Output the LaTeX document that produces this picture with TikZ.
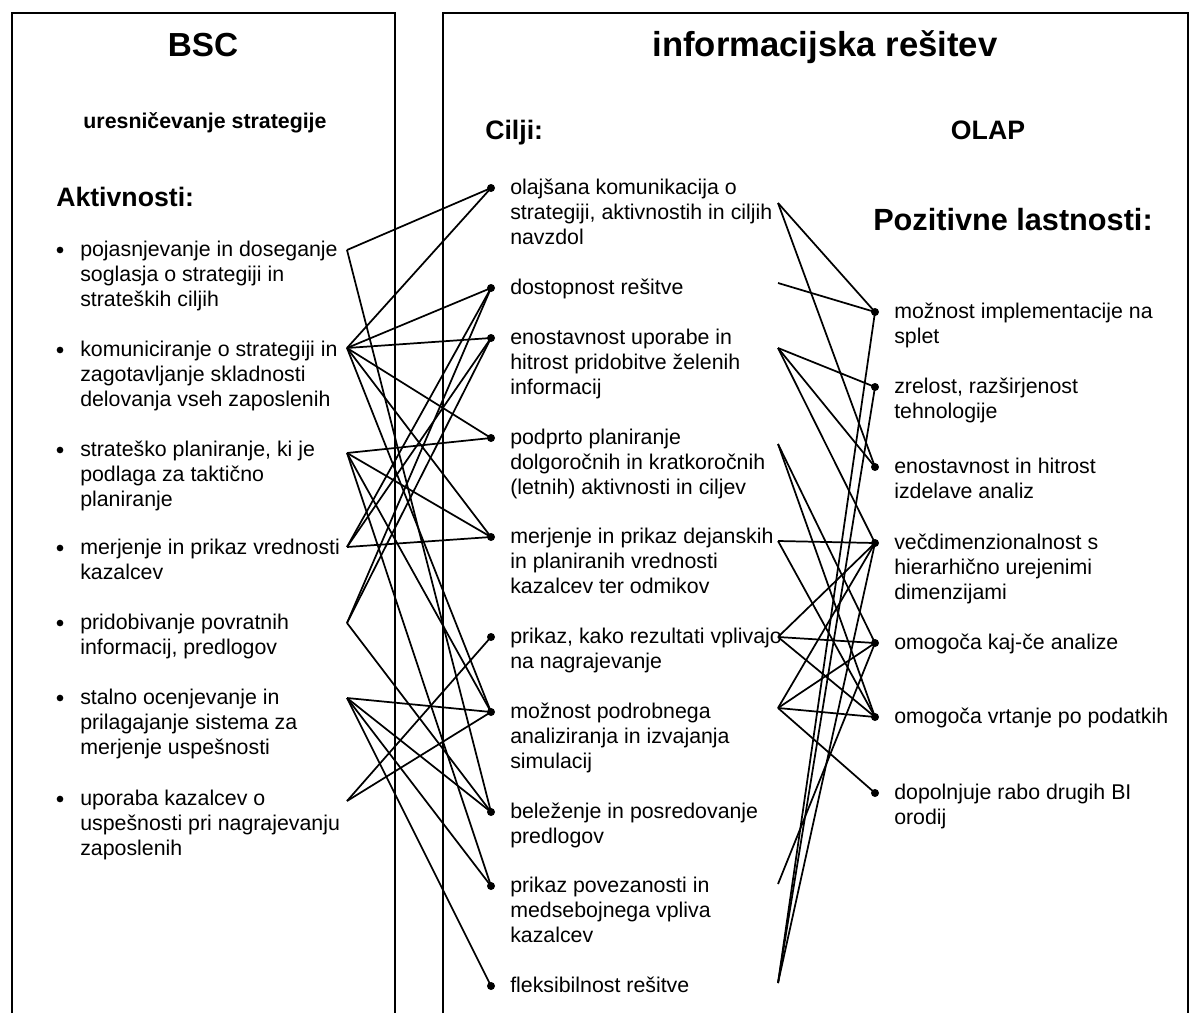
\documentclass[tikz,border=0pt]{standalone}
\usepackage{fontspec}
\setmainfont{Liberation Sans}
% left-aligned block whose baseline is that of its first line
\newcommand\mlines[1]{\begin{tabular}[t]{@{}l@{}}#1\end{tabular}}
\begin{document}
\begin{tikzpicture}[x=0.75pt,y=-0.75pt,
  frame/.style={line width=1.5pt},
  link/.style={line width=1.3pt},
  dot/.style={circle,fill=black,inner sep=0pt,minimum size=6pt},
  bul/.style={circle,fill=black,inner sep=0pt,minimum size=5pt},
  item/.style={anchor=base west,inner sep=0pt,font=\fontsize{16}{18.75}\selectfont},
  bighead/.style={anchor=base,inner sep=0pt,font=\fontsize{25}{30}\selectfont\bfseries},
  subhead/.style={anchor=base,inner sep=0pt,font=\fontsize{16}{19}\selectfont\bfseries},
  listhead/.style={anchor=base west,inner sep=0pt,font=\fontsize{20}{24}\selectfont\bfseries}]
\useasboundingbox (0,0) rectangle (1201,1013);

% two open-bottomed frames
\draw[frame] (12,1013) |- (395,13) -- (395,1013);
\draw[frame] (443,1013) |- (1188,13) -- (1188,1013);

% headings
\node[bighead] (bsc) at (203,57) {BSC};
\node[subhead] (ures) at (205,128) {uresničevanje strategije};
\node[listhead] (akt) at (56,206) {Aktivnosti:};
\node[bighead,font=\fontsize{26}{30}\selectfont\bfseries] (info) at (825,57) {informacijska rešitev};
\node[listhead] (cilji) at (485,140) {Cilji:};
\node[listhead,anchor=base] (olap) at (988,140) {OLAP};
\node[listhead,font=\fontsize{23}{27}\selectfont\bfseries] (poz) at (873,230) {Pozitivne lastnosti:};

% activities (left column)
\foreach \n/\y in {1/250,2/350,3/450,4/548,5/623,6/698,7/799}{
  \node[bul] (b\n) at (60,\y) {};
}
\node[item] (t1) at (80,256) {\mlines{pojasnjevanje in doseganje\\soglasja o strategiji in\\strateških ciljih}};
\node[item] (t2) at (80,356) {\mlines{komuniciranje o strategiji in\\zagotavljanje skladnosti\\delovanja vseh zaposlenih}};
\node[item] (t3) at (80,456) {\mlines{strateško planiranje, ki je\\podlaga za taktično\\planiranje}};
\node[item] (t4) at (80,554) {\mlines{merjenje in prikaz vrednosti\\kazalcev}};
\node[item] (t5) at (80,629) {\mlines{pridobivanje povratnih\\informacij, predlogov}};
\node[item] (t6) at (80,704) {\mlines{stalno ocenjevanje in\\prilagajanje sistema za\\merjenje uspešnosti}};
\node[item] (t7) at (80,805) {\mlines{uporaba kazalcev o\\uspešnosti pri nagrajevanju\\zaposlenih}};

\coordinate (l1) at (347,250);
\coordinate (l2) at (347,348);
\coordinate (l3) at (347,453);
\coordinate (l4) at (347,547);
\coordinate (l5) at (347,623);
\coordinate (l6) at (347,698);
\coordinate (l7) at (347,801);

% goals (middle column)
\foreach \n/\y in {1/188,2/288,3/338,4/438,5/537,6/637,7/712,8/812,9/886,10/986}{
  \node[dot] (c\n) at (491,\y) {};
}
\node[item] (g1) at (510,194) {\mlines{olajšana komunikacija o\\strategiji, aktivnostih in ciljih\\navzdol}};
\node[item] (g2) at (510,294) {dostopnost rešitve};
\node[item] (g3) at (510,344) {\mlines{enostavnost uporabe in\\hitrost pridobitve želenih\\informacij}};
\node[item] (g4) at (510,444) {\mlines{podprto planiranje\\dolgoročnih in kratkoročnih\\(letnih) aktivnosti in ciljev}};
\node[item] (g5) at (510,543) {\mlines{merjenje in prikaz dejanskih\\in planiranih vrednosti\\kazalcev ter odmikov}};
\node[item] (g6) at (510,643) {\mlines{prikaz, kako rezultati vplivajo\\na nagrajevanje}};
\node[item] (g7) at (510,718) {\mlines{možnost podrobnega\\analiziranja in izvajanja\\simulacij}};
\node[item] (g8) at (510,818) {\mlines{beleženje in posredovanje\\predlogov}};
\node[item] (g9) at (510,892) {\mlines{prikaz povezanosti in\\medsebojnega vpliva\\kazalcev}};
\node[item] (g10) at (510,992) {fleksibilnost rešitve};

\coordinate (r1) at (778,203);
\coordinate (r2) at (778,283);
\coordinate (r3) at (778,348);
\coordinate (r4) at (778,444);
\coordinate (r5) at (778,541);
\coordinate (r6) at (778,637);
\coordinate (r7) at (778,708);
\coordinate (r9) at (778,884);
\coordinate (r10) at (778,983);

% OLAP properties (right column)
\foreach \n/\y in {1/312,2/387,3/467,4/543,5/643,6/717,7/793}{
  \node[dot] (o\n) at (875,\y) {};
}
\node[item] (p1) at (894,318) {\mlines{možnost implementacije na\\splet}};
\node[item] (p2) at (894,393) {\mlines{zrelost, razširjenost\\tehnologije}};
\node[item] (p3) at (894,473) {\mlines{enostavnost in hitrost\\izdelave analiz}};
\node[item] (p4) at (894,549) {\mlines{večdimenzionalnost s\\hierarhično urejenimi\\dimenzijami}};
\node[item] (p5) at (894,649) {omogoča kaj-če analize};
\node[item] (p6) at (894,723) {omogoča vrtanje po podatkih};
\node[item] (p7) at (894,799) {\mlines{dopolnjuje rabo drugih BI\\orodij}};

% activities -> goals
\foreach \a/\b in {l1/c1,l1/c8,
  l2/c1,l2/c2,l2/c3,l2/c4,l2/c5,l2/c7,
  l3/c4,l3/c5,l3/c7,l3/c9,
  l4/c5,l4/c2,l4/c3,
  l5/c2,l5/c3,l5/c8,
  l6/c7,l6/c8,l6/c9,l6/c10,
  l7/c6,l7/c7}{
  \draw[link] (\a) -- (\b.center);
}

% goals -> OLAP properties
\foreach \a/\b in {r1/o1,r1/o3,r2/o1,r3/o2,r3/o3,r3/o4,
  r4/o5,r4/o6,r5/o4,r5/o6,
  r6/o4,r6/o5,r6/o6,
  r7/o4,r7/o5,r7/o6,r7/o7,
  r9/o5,r10/o1,r10/o2,r10/o4}{
  \draw[link] (\a) -- (\b.center);
}
\end{tikzpicture}
\end{document}
